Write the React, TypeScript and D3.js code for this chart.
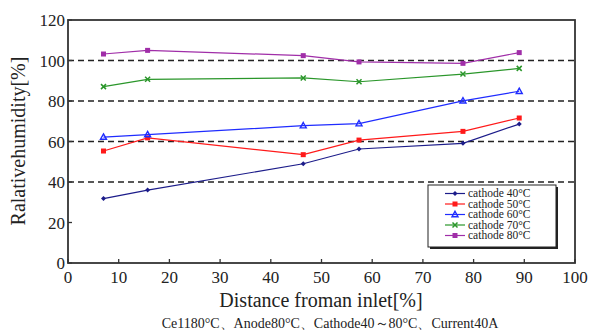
import React from "react";
import * as d3 from "d3";

const xs = [7, 15.7, 46.4, 57.4, 77.9, 89];
const c40 = [31.8, 36, 49, 56.3, 59.1, 68.6];
const c50 = [55.3, 61.8, 53.5, 60.7, 65, 71.6];
const c60 = [62.2, 63.4, 67.8, 68.8, 80.1, 84.8];
const c70 = [87.1, 90.7, 91.4, 89.5, 93.3, 96.1];
const c80 = [103.2, 105, 102.4, 99.3, 98.6, 103.9];
const seriesNames = ["cathode 40°C", "cathode 50°C", "cathode 60°C", "cathode 70°C", "cathode 80°C"];
const xTicks = [0, 10, 20, 30, 40, 50, 60, 70, 80, 90, 100];
const yTicks = [0, 20, 40, 60, 80, 100, 120];
const gridVals = [40, 60, 80, 100];

const colors = ["#1c1c8a", "#ff1a1a", "#1f2cff", "#2a962a", "#a02ea8"];
const markers = ["diamond", "square", "triangle", "x", "square"];

const M = { left: 68, right: 575, top: 20, bottom: 263 };
const FONT = "Liberation Serif, DejaVu Serif, serif";

function Marker({ type, x, y, color }: { type: string; x: number; y: number; color: string }) {
  if (type === "square") return <rect x={x - 2.5} y={y - 2.5} width={5} height={5} fill={color} />;
  if (type === "diamond") return <path d={`M${x},${y - 2.5}L${x + 2.5},${y}L${x},${y + 2.5}L${x - 2.5},${y}Z`} fill={color} />;
  if (type === "triangle") return <path d={`M${x},${y - 3.2}L${x + 3},${y + 2.2}L${x - 3},${y + 2.2}Z`} fill="none" stroke={color} strokeWidth={1.4} />;
  return <path d={`M${x - 2.5},${y - 2.5}L${x + 2.5},${y + 2.5}M${x + 2.5},${y - 2.5}L${x - 2.5},${y + 2.5}`} stroke={color} strokeWidth={1.5} />;
}

export default function App() {
  const x = d3.scaleLinear().domain([0, 100]).range([M.left, M.right]);
  const y = d3.scaleLinear().domain([0, 120]).range([M.bottom, M.top]);
  const data = [c40, c50, c60, c70, c80];
  const line = d3.line<number>().x((_, i) => x(xs[i])).y((d) => y(d));
  const lx = 428, ly = 185, lw = 128, lh = 62;
  const ts = { fontFamily: FONT };
  return (
    <svg width={590} height={335} style={{ position: "absolute", left: 0, top: 0, background: "#fff", fontFamily: FONT }}>
      {gridVals.map((g) => (
        <line key={g} x1={M.left} x2={M.right} y1={y(g)} y2={y(g)} stroke="#222" strokeWidth={1.3} strokeDasharray="6,4" />
      ))}
      {data.map((s, k) => (
        <g key={k}>
          <path d={line(s) || ""} fill="none" stroke={colors[k]} strokeWidth={1.2} />
          {s.map((v, i) => (
            <Marker key={i} type={markers[k]} x={x(xs[i])} y={y(v)} color={colors[k]} />
          ))}
        </g>
      ))}
      <rect x={M.left} y={M.top} width={M.right - M.left} height={M.bottom - M.top} fill="none" stroke="#333" strokeWidth={1.8} />
      {xTicks.map((t) => (
        <g key={t}>
          <line x1={x(t)} x2={x(t)} y1={M.bottom} y2={M.bottom - 4} stroke="#333" strokeWidth={1.3} />
          <text style={ts} x={x(t)} y={M.bottom + 20} fontSize={17} textAnchor="middle" fill="#222">{t}</text>
        </g>
      ))}
      {yTicks.map((t) => (
        <g key={t}>
          <line x1={M.left} x2={M.left + 4} y1={y(t)} y2={y(t)} stroke="#333" strokeWidth={1.3} />
          <text style={ts} x={M.left - 3} y={y(t) + 6} fontSize={17} textAnchor="end" fill="#222">{t}</text>
        </g>
      ))}
      <text style={ts} x={321} y={307} fontSize={20} textAnchor="middle" fill="#222">Distance froman inlet[%]</text>
      <text style={ts} transform={`translate(25,141) rotate(-90)`} fontSize={20} textAnchor="middle" fill="#222">Ralativehumidity[%]</text>
      <text style={ts} x={330} y={328} fontSize={14} textAnchor="middle" fill="#222">Ce1180°C、Anode80°C、Cathode40～80°C、Current40A</text>
      <rect x={lx + 2} y={ly + 2} width={lw} height={lh} fill="#222" />
      <rect x={lx} y={ly} width={lw} height={lh} fill="#fff" stroke="#222" strokeWidth={1} />
      {seriesNames.map((n, k) => {
        const yy = ly + 8.5 + k * 10.5;
        return (
          <g key={n}>
            <line x1={lx + 17} x2={lx + 37} y1={yy} y2={yy} stroke={colors[k]} strokeWidth={1.2} />
            <Marker type={markers[k]} x={lx + 27} y={yy} color={colors[k]} />
            <text style={ts} x={lx + 40} y={yy + 3.5} fontSize={11.5} fill="#222">{n}</text>
          </g>
        );
      })}
    </svg>
  );
}
